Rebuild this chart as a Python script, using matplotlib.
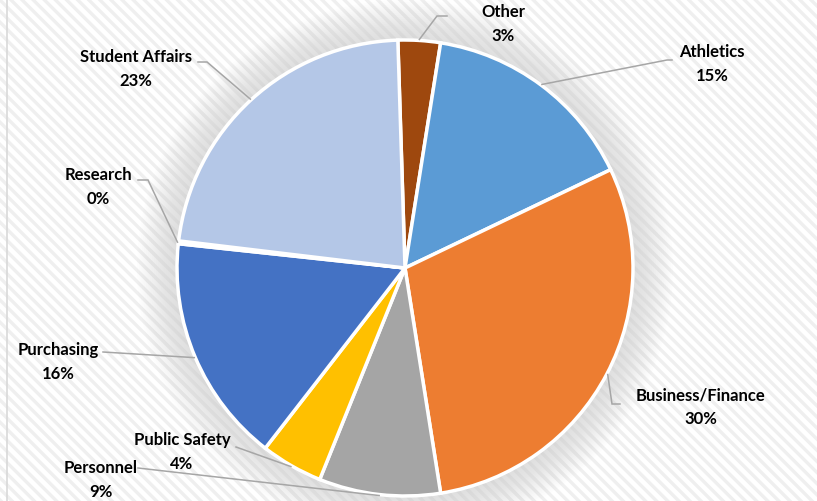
import numpy as np
import matplotlib.pyplot as plt
from matplotlib.patches import Rectangle, Circle

plt.rcParams['font.family'] = ['Lato', 'DejaVu Sans']
plt.rcParams['hatch.linewidth'] = 2.4

# slices, clockwise from 12 o'clock
names = ["Other", "Athletics", "Business/Finance", "Personnel",
         "Public Safety", "Purchasing", "Research", "Student Affairs"]
values = [3.0, 15.4, 29.6, 8.6, 4.4, 16.2, 0.2, 22.6]
colors = ["#9E480E", "#5B9BD5", "#ED7D31", "#A5A5A5",
          "#FFC000", "#4472C4", "#70AD47", "#B4C7E7"]

# label text centre and leader elbow (pixels)
label_xy = [(503, 24), (712, 64), (701, 407), (101, 480),
            (182, 452), (58, 362), (98, 187), (136, 69)]
elbow_xy = [(437, 16), (667, 60), (612, 404), (138, 468),
            (236, 447), (103, 352), (148, 180), (207, 62)]
text_end = [(447, 16), (672, 60), (620, 404), (138, 468),
            (236, 447), (103, 352), (138, 180), (198, 62)]

W, H = 817, 501
cx, cy, R = 405, 268, 228

fig = plt.figure(figsize=(W / 100, H / 100), dpi=100)
ax = fig.add_axes([0, 0, 1, 1])

# striped background
ax.add_patch(Rectangle((0, 0), W, H, facecolor='white', edgecolor='#efefef',
                       hatch='\\\\\\', lw=0, zorder=0))
ax.plot([7.5, 7.5], [0, H], color='#d9d9d9', lw=1.2, zorder=1)

# soft shadow around the pie
for r in np.linspace(R + 40, R, 20):
    ax.add_patch(Circle((cx, cy), r, facecolor='#909090', alpha=0.01,
                        lw=0, zorder=1))

# y axis is flipped below, so counterclock=True in data reads clockwise on screen
wedges, _ = ax.pie(values, colors=colors, startangle=-91.8, counterclock=True,
                   center=(cx, cy), radius=R, frame=True,
                   wedgeprops=dict(edgecolor='white', linewidth=2.5))
for w in wedges:
    w.set_zorder(3)
ax.set_xlim(0, W)
ax.set_ylim(H, 0)
ax.set_aspect('equal')
ax.axis('off')

total = sum(values)
for w, name, v, lxy, exy, txy in zip(wedges, names, values, label_xy,
                                     elbow_xy, text_end):
    mid = np.deg2rad((w.theta1 + w.theta2) / 2)
    px = cx + (R + 1) * np.cos(mid)
    py = cy + (R + 1) * np.sin(mid)
    ax.plot([px, exy[0], txy[0]], [py, exy[1], txy[1]], color='#a6a6a6',
            lw=1.1, zorder=4, solid_joinstyle='miter')
    ax.text(lxy[0], lxy[1], f"{name}\n{round(v / total * 100):.0f}%",
            ha='center', va='center', fontsize=12, fontweight='bold',
            linespacing=1.55, color='black', zorder=5)

fig.savefig("out.png", dpi=100)
